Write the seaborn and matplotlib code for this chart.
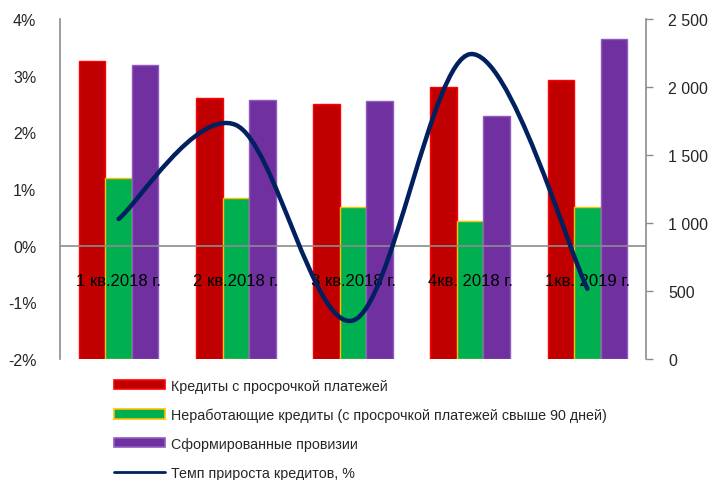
import numpy as np
import pandas as pd
import matplotlib
matplotlib.use('Agg')
import matplotlib.pyplot as plt
from matplotlib.path import Path
from matplotlib.patches import PathPatch, Patch
from matplotlib.lines import Line2D
import seaborn as sns

# Data
quarters = ['1 кв.2018 г.', '2 кв.2018 г.', '3 кв.2018 г.', '4кв. 2018 г.', '1кв. 2019 г.']
overdue = [2189, 1921, 1877, 2002, 2051]          # Кредиты с просрочкой платежей
npl = [1331, 1182, 1120, 1017, 1120]              # Неработающие кредиты
provisions = [2160, 1902, 1894, 1784, 2351]       # Сформированные провизии
growth = [0.47, 2.13, -1.32, 3.38, -0.76]         # Темп прироста кредитов, %

series_names = ['Кредиты с просрочкой платежей',
                'Неработающие кредиты (с просрочкой платежей свыше 90 дней)',
                'Сформированные провизии']
line_name = 'Темп прироста кредитов, %'
face_colors = ['#C00000', '#00B050', '#7030A0']
edge_colors = ['#FF0000', '#FFC000', '#8E5CC0']
line_color = '#002060'

left_ticks = [-2, -1, 0, 1, 2, 3, 4]
right_ticks = [0, 500, 1000, 1500, 2000, 2500]

sns.set_theme(style='white')
plt.rcParams['font.family'] = ['Liberation Sans', 'DejaVu Sans']
plt.rcParams['font.size'] = 10.5

df = pd.DataFrame({
    'quarter': quarters * 3,
    'value': overdue + npl + provisions,
    'series': [series_names[0]] * 5 + [series_names[1]] * 5 + [series_names[2]] * 5,
})

fig = plt.figure(figsize=(7.12, 4.81), dpi=100)
ax = fig.add_axes([60 / 712, 1 - 360 / 481, 586 / 712, 340 / 481])

# bars use the right-hand axis
sns.barplot(data=df, x='quarter', y='value', hue='series', palette=face_colors,
            width=0.68, gap=0, ax=ax, legend=False, saturation=1)
for cont, ec in zip(ax.containers, edge_colors):
    for bar in cont:
        bar.set_edgecolor(ec)
        bar.set_linewidth(1)

ax.set_ylim(0, 2500)
ax.set_xlim(-0.5, 4.5)
ax.tick_params(axis='x', bottom=False, labelbottom=False)
ax.set_xlabel('')
ax.set_ylabel('')

# line on the left-hand axis, drawn on top of the bars
ax2 = ax.twinx()

ax.yaxis.tick_right()
ax.set_yticks(right_ticks)
ax.set_yticklabels(['{:,}'.format(v).replace(',', ' ') for v in right_ticks])
ax.tick_params(axis='y', left=False, right=True, labelleft=False, labelright=True,
               length=5, width=1, color='#8c8c8c', labelsize=11.5, pad=11)
for s in ['top', 'bottom', 'left']:
    ax.spines[s].set_visible(False)
ax.spines['right'].set_color('#8c8c8c')
ax.spines['right'].set_linewidth(1.2)

ax2.set_ylim(-2, 4)
ax2.yaxis.tick_left()
ax2.set_yticks(left_ticks)
ax2.set_yticklabels(['{}%'.format(v) for v in left_ticks])
ax2.tick_params(axis='y', left=False, right=False, labelleft=True, labelright=False,
                labelsize=11.5, pad=11)
for s in ['top', 'bottom', 'right']:
    ax2.spines[s].set_visible(False)
ax2.spines['left'].set_visible(True)
ax2.spines['left'].set_color('#8c8c8c')
ax2.spines['left'].set_linewidth(1.2)
ax2.axhline(0, color='#8c8c8c', lw=1.2, zorder=1)

# smoothed line (Catmull-Rom as cubic Bezier)
pts = np.column_stack([np.arange(len(growth)), growth]).astype(float)
ext = np.vstack([pts[0], pts, pts[-1]])
verts = [pts[0]]
codes = [Path.MOVETO]
for i in range(len(pts) - 1):
    p0, p1, p2, p3 = ext[i], ext[i + 1], ext[i + 2], ext[i + 3]
    verts += [p1 + (p2 - p0) / 6, p2 - (p3 - p1) / 6, p2]
    codes += [Path.CURVE4] * 3
ax2.add_patch(PathPatch(Path(verts, codes), fill=False, edgecolor=line_color,
                        lw=3.2, capstyle='round', zorder=3))

for i, q in enumerate(quarters):
    ax2.text(i, -0.62, q, ha='center', va='center', fontsize=12, color='black', zorder=2)

handles = [Patch(facecolor=fc, edgecolor=ec, lw=1.2) for fc, ec in zip(face_colors, edge_colors)]
handles.append(Line2D([], [], color=line_color, lw=2))
fig.legend(handles, series_names + [line_name], loc='upper left',
           bbox_to_anchor=(108 / 712, 1 - 374 / 481), frameon=False,
           handlelength=3.6, handleheight=0.6, labelspacing=1.04, fontsize=10.3,
           handletextpad=0.4, borderaxespad=0)

fig.savefig('out.png', dpi=100)
